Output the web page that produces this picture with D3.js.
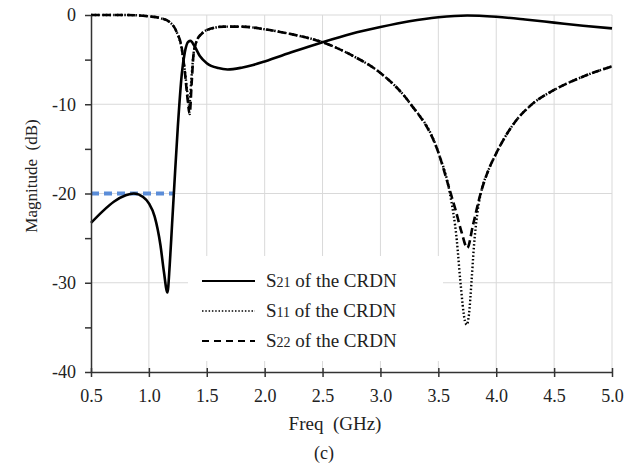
<!DOCTYPE html>
<meta charset="utf-8">
<script src="https://d3js.org/d3.v7.min.js"></script>
<style>
  body { margin: 0; background: #fff; }
  text { font-family: "Liberation Serif", "Times New Roman", serif; fill: #222; }
</style>
<div id="graph"></div>
<script>

    // S21 of the CRDN
    var s21Freq = [0.5, 0.6, 0.7, 0.8, 0.87, 0.95, 1.0, 1.05, 1.1, 1.13, 1.16, 1.18, 1.2, 1.22, 1.25, 1.285,
        1.31, 1.34, 1.36, 1.39, 1.44, 1.5, 1.6, 1.68, 1.8, 1.9, 2.0, 2.25, 2.5, 2.75, 3.0, 3.25, 3.5, 3.75,
        4.0, 4.25, 4.5, 4.75, 5.0];
    var s21Val = [-23.3, -22.0, -20.9, -20.2, -20.0, -20.4, -21.1, -22.6, -25.8, -28.8, -31.1, -28.0, -23.5, -19.0, -12.5, -6.5,
        -4.2, -3.0, -2.9, -3.4, -4.6, -5.4, -5.95, -6.1, -5.9, -5.6, -5.2, -4.1, -3.05, -2.1, -1.35, -0.7, -0.25, -0.05,
        -0.2, -0.5, -0.85, -1.2, -1.5];

    // S11 of the CRDN
    var s11Freq = [0.5, 0.8, 1.0, 1.1, 1.18, 1.24, 1.285, 1.31, 1.335, 1.348, 1.365, 1.385, 1.41, 1.46, 1.53, 1.65,
        1.8, 2.0, 2.25, 2.5, 2.75, 3.0, 3.25, 3.5, 3.6, 3.66, 3.69, 3.73, 3.745, 3.765, 3.787, 3.807, 3.836, 3.88,
        3.92, 4.0, 4.15, 4.3, 4.5, 4.75, 5.0];
    var s11Val = [0, 0, -0.15, -0.35, -0.8, -1.9, -3.9, -6.2, -9.0, -10.3, -7.5, -4.4, -3.0, -2.05, -1.55, -1.3,
        -1.3, -1.6, -2.2, -3.05, -4.5, -6.5, -9.8, -15.4, -20.0, -25.3, -29.8, -34.3, -34.7, -33.5, -29.8, -26.0, -22.3, -19.3,
        -17.8, -15.5, -12.2, -10.1, -8.4, -6.9, -5.75];

    // S22 of the CRDN
    var s22Freq = [0.5, 0.8, 1.0, 1.1, 1.18, 1.24, 1.285, 1.31, 1.335, 1.352, 1.37, 1.385, 1.41, 1.46, 1.53, 1.65,
        1.8, 2.0, 2.25, 2.5, 2.75, 3.0, 3.25, 3.5, 3.6, 3.65, 3.7, 3.75, 3.8, 3.865, 3.92, 4.0, 4.15, 4.3, 4.5,
        4.75, 5.0];
    var s22Val = [0, 0, -0.15, -0.35, -0.8, -1.9, -3.8, -6.3, -9.5, -11.1, -7.5, -4.5, -3.0, -2.05, -1.55, -1.3,
        -1.3, -1.6, -2.2, -3.05, -4.5, -6.5, -9.8, -15.4, -19.7, -21.9, -24.3, -26.1, -23.5, -20.0, -17.8, -15.5, -12.2, -10.1, -8.4,
        -6.9, -5.75];

    // blue -20 dB reference
    var refFreq = [0.5, 1.22];
    var refVal = [-20, -20];

    var xTicks = [0.5, 1.0, 1.5, 2.0, 2.5, 3.0, 3.5, 4.0, 4.5, 5.0];
    var yTicks = [-40, -35, -30, -25, -20, -15, -10, -5, 0];
    var yLabels = [-40, -30, -20, -10, 0];

    var legendNames = ["21", "11", "22"];

    var W = 634, H = 466;
    var plotL = 91, plotR = 612, plotT = 15, plotB = 372;

    var svg = d3.select("#graph")
        .append("svg")
        .attr("width", W)
        .attr("height", H);

    var x = d3.scaleLinear()
        .domain([0.5, 5.0])
        .range([plotL, plotR]);

    var y = d3.scaleLinear()
        .domain([-40, 0])
        .range([plotB, plotT]);

    // gridlines
    svg.append("g")
        .selectAll("line")
        .data(xTicks.slice(1))
        .enter()
        .append("line")
        .attr("x1", function (d) { return x(d); })
        .attr("x2", function (d) { return x(d); })
        .attr("y1", plotT)
        .attr("y2", plotB)
        .style("stroke", "#d9d9d9")
        .style("stroke-width", 1);

    svg.append("g")
        .selectAll("line")
        .data(yLabels.slice(1))
        .enter()
        .append("line")
        .attr("x1", plotL)
        .attr("x2", plotR)
        .attr("y1", function (d) { return y(d); })
        .attr("y2", function (d) { return y(d); })
        .style("stroke", "#d9d9d9")
        .style("stroke-width", 1);

    // legend background hides the grid
    svg.append("rect")
        .attr("x", 188)
        .attr("y", 256)
        .attr("width", 255)
        .attr("height", 105)
        .style("fill", "#fff");

    function series(fr, vals) {
        return fr.map(function (f, i) { return [f, vals[i]]; });
    }

    var line = d3.line()
        .x(function (d) { return x(d[0]); })
        .y(function (d) { return y(d[1]); })
        .curve(d3.curveMonotoneX);

    svg.append("path")
        .datum(series(refFreq, refVal))
        .attr("d", line)
        .style("fill", "none")
        .style("stroke", "#5b8dd8")
        .style("stroke-width", 4)
        .style("stroke-dasharray", "8,5");

    svg.append("path")
        .datum(series(s22Freq, s22Val))
        .attr("d", line)
        .style("fill", "none")
        .style("stroke", "#000")
        .style("stroke-width", 2.6)
        .style("stroke-dasharray", "8,4");

    svg.append("path")
        .datum(series(s11Freq, s11Val))
        .attr("d", line)
        .style("fill", "none")
        .style("stroke", "#000")
        .style("stroke-width", 2.4)
        .style("stroke-dasharray", "1.5,2.2");

    svg.append("path")
        .datum(series(s21Freq, s21Val))
        .attr("d", line)
        .style("fill", "none")
        .style("stroke", "#000")
        .style("stroke-width", 2.6);

    // axes
    var xAxis = svg.append("g")
        .attr("transform", "translate(0," + plotB + ")")
        .call(d3.axisBottom(x).tickValues(xTicks).tickFormat(d3.format(".1f")).tickSize(5).tickSizeOuter(0).tickPadding(12));
    xAxis.selectAll(".tick line").attr("y1", -4);
    xAxis.selectAll("text").style("font-size", "18px").style("font-family", "Liberation Serif").style("fill", "#222");
    xAxis.selectAll("line, path").style("stroke", "#333").style("stroke-width", 1.5);

    var yAxis = svg.append("g")
        .attr("transform", "translate(" + plotL + ",0)")
        .call(d3.axisLeft(y).tickValues(yTicks)
            .tickFormat(function (d) { return yLabels.indexOf(d) >= 0 ? String(d) : ""; })
            .tickSize(6).tickSizeOuter(0).tickPadding(9));
    yAxis.selectAll("text").style("font-size", "18px").style("font-family", "Liberation Serif").style("fill", "#222");
    yAxis.selectAll("line, path").style("stroke", "#333").style("stroke-width", 1.5);

    // titles
    svg.append("text")
        .attr("transform", "translate(37,176) rotate(-90)")
        .attr("text-anchor", "middle")
        .style("font-size", "17px")
        .text("Magnitude\u00a0\u00a0(dB)");

    svg.append("text")
        .attr("x", 335)
        .attr("y", 430)
        .attr("text-anchor", "middle")
        .style("font-size", "19px")
        .text("Freq\u00a0\u00a0(GHz)");

    svg.append("text")
        .attr("x", 324)
        .attr("y", 459)
        .attr("text-anchor", "middle")
        .style("font-size", "18px")
        .text("(c)");

    // legend
    var dashes = [null, "1.5,1.8", "7,5"];
    var leg = svg.append("g")
        .selectAll("g")
        .data(legendNames)
        .enter()
        .append("g")
        .attr("transform", function (d, i) { return "translate(202," + (281 + i * 30) + ")"; });

    leg.append("line")
        .attr("x1", 0)
        .attr("x2", 53)
        .style("stroke", "#000")
        .style("stroke-width", function (d, i) { return i === 1 ? 1.6 : 2; })
        .style("stroke-dasharray", function (d, i) { return dashes[i]; });

    var lt = leg.append("text")
        .attr("x", 64)
        .attr("y", 6)
        .style("font-size", "19px");
    lt.append("tspan").text("S");
    lt.append("tspan").style("font-size", "14px").text(function (d) { return d; });
    lt.append("tspan").text(" of the CRDN");

</script>
